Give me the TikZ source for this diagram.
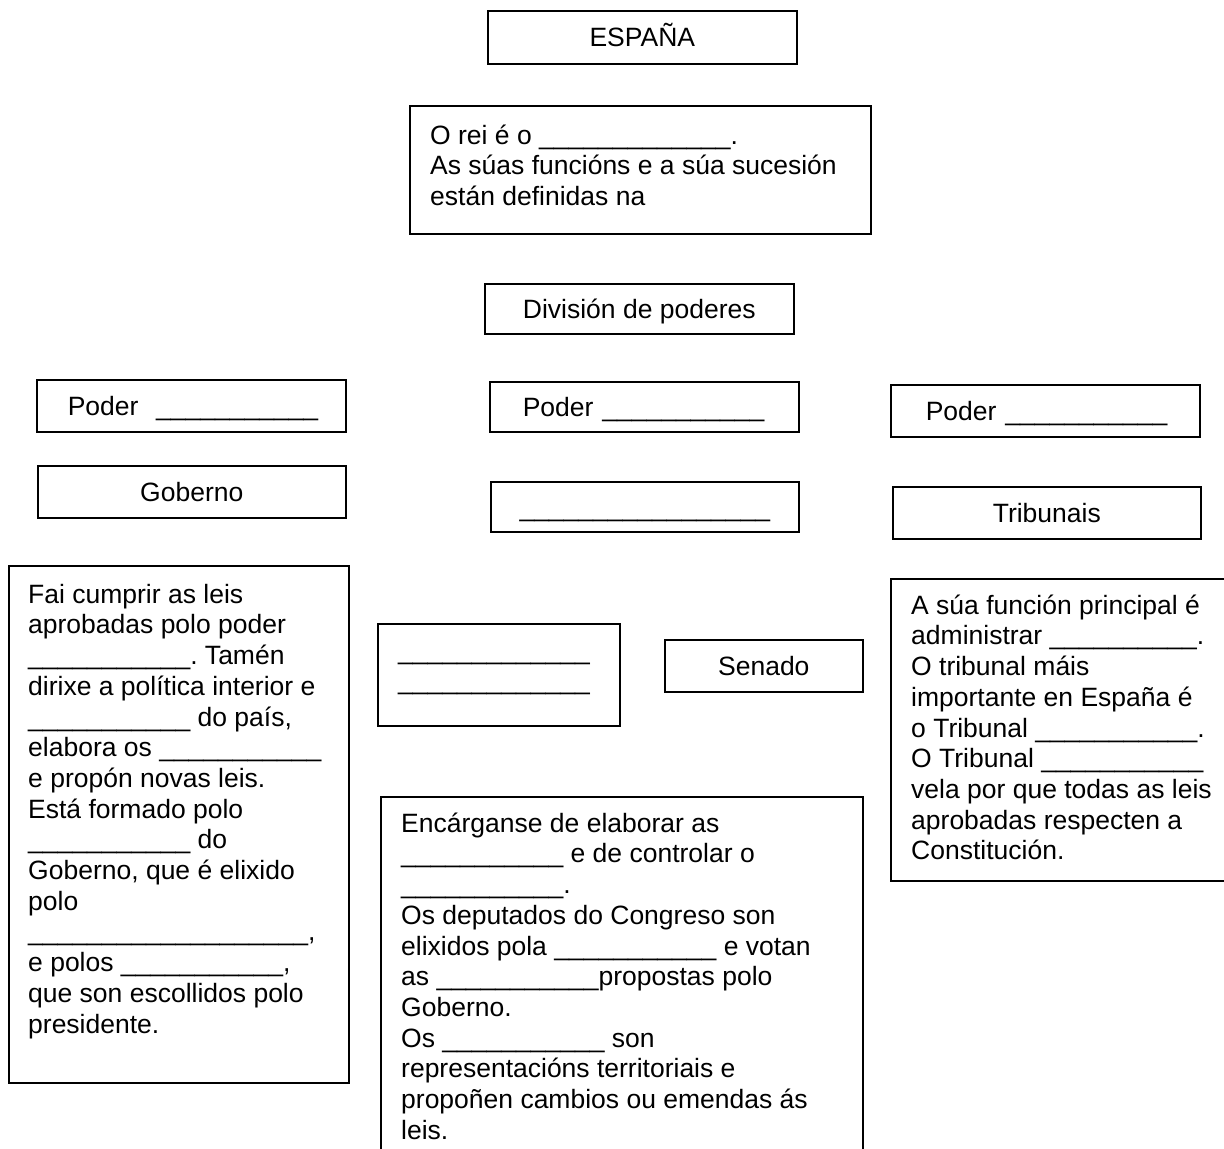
\documentclass[tikz,border=0pt]{standalone}
\usepackage{fontspec}
\setmainfont{Liberation Sans}
\ExplSyntaxOn
\NewDocumentCommand{\fillin}{m}{\prg_replicate:nn{#1}{\textunderscore}}
\ExplSyntaxOff
\frenchspacing

\begin{document}
\begin{tikzpicture}[x=1pt, y=-1pt, font=\fontsize{26.5}{30.7}\selectfont,
  box/.style={rectangle, draw=black, line width=1.6pt, inner sep=0pt, anchor=north west},
  one/.style={box, text height=19pt, text depth=0pt},
  poder/.style={one, align=left, minimum width=309, text width=#1, inner xsep=(309pt-#1)/2},
  txt/.style={align=left, inner sep=0pt, anchor=north west}]
\useasboundingbox (0,0) rectangle (1224,1149);
\clip (0,0) rectangle (1224,1149);
\node[one, minimum width=309, minimum height=53] (esp) at (487,10) {ESPAÑA};
\node[box, minimum width=461, minimum height=128] (rei) at (409,105) {};
\node[txt] (reit) at (430,122.5) {\strut O rei é o \fillin{13}.\\As súas funcións e a súa sucesión\\están definidas na};
\node[one, minimum width=309, minimum height=50] (div) at (484,283) {División de poderes};
\node[poder=247pt, minimum height=52] (pl) at (36,379) {\mbox{Poder\ \ \fillin{11}}};
\node[poder=243pt, minimum height=50] (pm) at (489,381) {\mbox{Poder \fillin{11}}};
\node[poder=239pt, minimum height=52] (pr) at (890,384) {\mbox{Poder \fillin{11}}};
\node[one, minimum width=308, minimum height=52] (gob) at (37,465) {Goberno};
\node[one, minimum width=308, minimum height=50] (leg) at (490,481) {\fillin{17}};
\node[one, minimum width=308, minimum height=52] (tri) at (892,486) {Tribunais};
\node[box, minimum width=340, minimum height=517] (fai) at (8,565) {};
\node[txt] (fait) at (28,581.5) {\strut Fai cumprir as leis\\aprobadas polo poder\\\fillin{11}. Tamén\\dirixe a política interior e\\\fillin{11} do país,\\elabora os \fillin{11}\\e propón novas leis.\\Está formado polo\\\fillin{11} do\\Goberno, que é elixido\\polo\\\fillin{19},\\e polos \fillin{11},\\que son escollidos polo\\presidente.};
\node[box, minimum width=242, minimum height=102] (cam) at (377,623) {};
\node[txt] (camt) at (398,637.5) {\strut\fillin{13}\\\fillin{13}};
\node[one, minimum width=198, minimum height=52] (sen) at (664,639) {Senado};
\node[box, minimum width=482, minimum height=380] (enc) at (380,796) {};
\node[txt] (enct) at (401,810.5) {\strut Encárganse de elaborar as\\\fillin{11} e de controlar o\\\fillin{11}.\\Os deputados do Congreso son\\elixidos pola \fillin{11} e votan\\as \fillin{11}propostas polo\\Goberno.\\Os \fillin{11} son\\representacións territoriais e\\propoñen cambios ou emendas ás\\leis.};
\node[box, minimum width=360, minimum height=302] (sua) at (890,578) {};
\node[txt] (suat) at (911,592.5) {\strut A súa función principal é\\administrar \fillin{10}.\\O tribunal máis\\importante en España é\\o Tribunal \fillin{11}.\\O Tribunal \fillin{11}\\vela por que todas as leis\\aprobadas respecten a\\Constitución.};
\end{tikzpicture}
\end{document}
